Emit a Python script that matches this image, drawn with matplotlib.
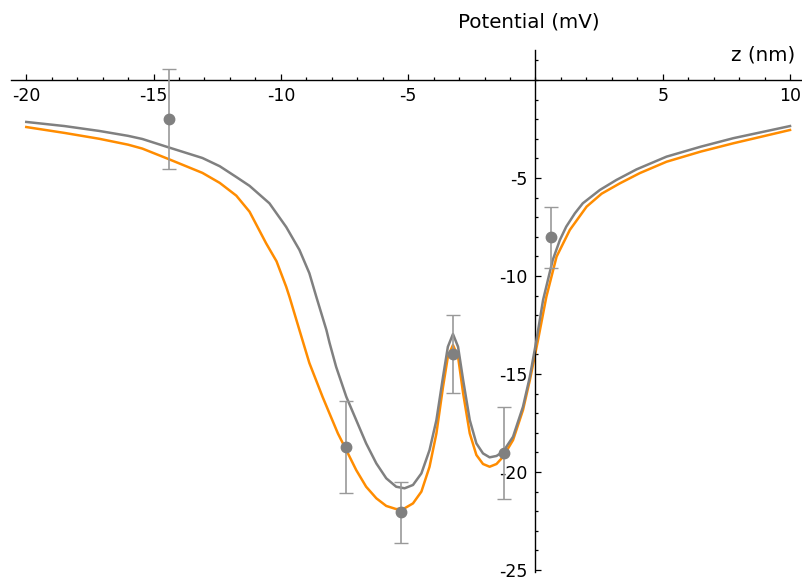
import matplotlib
matplotlib.use("Agg")
import matplotlib.pyplot as plt
from matplotlib.ticker import MultipleLocator, FixedLocator

# Measured points with error bars (z in nm, potential in mV)
pts_z = [-14.38, -7.46, -5.27, -3.24, -1.25, 0.63]
pts_v = [-2.00, -18.71, -22.06, -13.99, -19.05, -8.03]
pts_err = [2.56, 2.35, 1.56, 1.98, 2.35, 1.56]

# Gray model curve
gray_z = [-20.00, -18.50, -17.13, -16.00, -15.44, -14.38, -13.08, -12.40, -11.75,
          -11.23, -10.45, -9.79, -9.27, -8.88, -8.61, -8.21, -8.09, -7.83, -7.43,
          -7.04, -6.65, -6.25, -5.86, -5.47, -5.14, -4.81, -4.48, -4.16, -3.89,
          -3.63, -3.44, -3.24, -3.04, -2.84, -2.58, -2.32, -2.06, -1.80, -1.53,
          -1.27, -0.88, -0.49, -0.22, 0.04, 0.30, 0.68, 0.96, 1.21, 1.55,
          1.86, 2.53, 3.18, 3.97, 5.15, 6.50, 7.77, 10.00]
gray_v = [-2.14, -2.35, -2.60, -2.85, -3.01, -3.45, -3.98, -4.40, -4.95,
          -5.40, -6.29, -7.50, -8.67, -9.86, -11.05, -12.76, -13.40, -14.63, -16.16,
          -17.35, -18.54, -19.56, -20.32, -20.75, -20.83, -20.66, -20.07, -18.88, -17.35,
          -15.14, -13.61, -12.96, -13.61, -15.31, -17.35, -18.54, -19.05, -19.25, -19.18,
          -18.96, -18.20, -16.67, -15.14, -13.27, -11.22, -9.18, -8.16, -7.48, -6.80,
          -6.29, -5.61, -5.10, -4.56, -3.91, -3.40, -2.97, -2.35]

# Orange model curve
orange_z = [-20.00, -18.50, -17.13, -16.00, -15.44, -14.38, -13.08, -12.40, -11.75,
            -11.23, -10.58, -10.17, -9.79, -9.66, -9.27, -8.88, -8.36, -8.09, -7.76,
            -7.43, -7.04, -6.65, -6.25, -5.86, -5.47, -5.14, -4.81, -4.48, -4.16,
            -3.89, -3.63, -3.44, -3.24, -3.04, -2.84, -2.58, -2.32, -2.06, -1.80,
            -1.53, -1.27, -0.88, -0.49, -0.22, 0.10, 0.43, 0.83, 1.35, 2.01,
            2.60, 3.32, 4.10, 5.15, 6.50, 7.77, 10.00]
orange_v = [-2.40, -2.70, -3.00, -3.30, -3.50, -4.05, -4.74, -5.25, -5.90,
            -6.72, -8.33, -9.25, -10.55, -11.07, -12.76, -14.44, -16.17, -17.01, -18.03,
            -18.88, -19.90, -20.75, -21.34, -21.73, -21.89, -21.85, -21.60, -21.00, -19.73,
            -18.03, -15.65, -14.12, -13.52, -14.12, -15.99, -18.03, -19.13, -19.59, -19.73,
            -19.59, -19.22, -18.37, -16.84, -15.31, -13.27, -11.05, -9.01, -7.65, -6.46,
            -5.80, -5.27, -4.75, -4.17, -3.65, -3.23, -2.55]

x_labels = [-20, -15, -10, -5, 5, 10]
y_labels = [-5, -10, -15, -20, -25]

plt.rcParams["font.family"] = "DejaVu Sans"
plt.rcParams["axes.unicode_minus"] = False

W, H = 802, 578
fig = plt.figure(figsize=(W / 100, H / 100), dpi=100)
ax = fig.add_axes([11 / W, 6 / H, (W - 11) / W, (572 - 50) / H])

ax.plot(orange_z, orange_v, color="#ff8c00", lw=1.8, zorder=2)
ax.plot(gray_z, gray_v, color="#808080", lw=1.8, zorder=3)
ax.errorbar(pts_z, pts_v, yerr=pts_err, fmt="none", ecolor="#999999",
            elinewidth=1.2, capsize=5, capthick=1.0, zorder=4)
ax.plot(pts_z, pts_v, "o", color="#808080", ms=7.5, zorder=5)

ax.set_xlim(-20.6, 10.47)
ax.set_ylim(-25.1, 1.53)

# Mathematica-style crossing axes
for side in ("top", "right"):
    ax.spines[side].set_visible(False)
ax.spines["left"].set_position(("data", 0))
ax.spines["bottom"].set_position(("data", 0))
for side in ("left", "bottom"):
    ax.spines[side].set_linewidth(1.0)

ax.xaxis.set_major_locator(FixedLocator(x_labels))
ax.yaxis.set_major_locator(FixedLocator(y_labels))
ax.xaxis.set_minor_locator(MultipleLocator(1))
ax.yaxis.set_minor_locator(MultipleLocator(1))
ax.tick_params(which="both", direction="in", width=0.9, labelsize=12.5)
ax.tick_params(which="major", length=4.5)
ax.tick_params(which="minor", length=2.5)
ax.tick_params(axis="x", pad=5)
ax.tick_params(axis="y", pad=6)

fig.text(795 / W, 1 - 55 / H, "z (nm)", ha="right", va="center", fontsize=14.3)
fig.text(529 / W, 1 - 22 / H, "Potential (mV)", ha="center", va="center", fontsize=14.3)

fig.savefig("out.png", dpi=100, facecolor="white")
